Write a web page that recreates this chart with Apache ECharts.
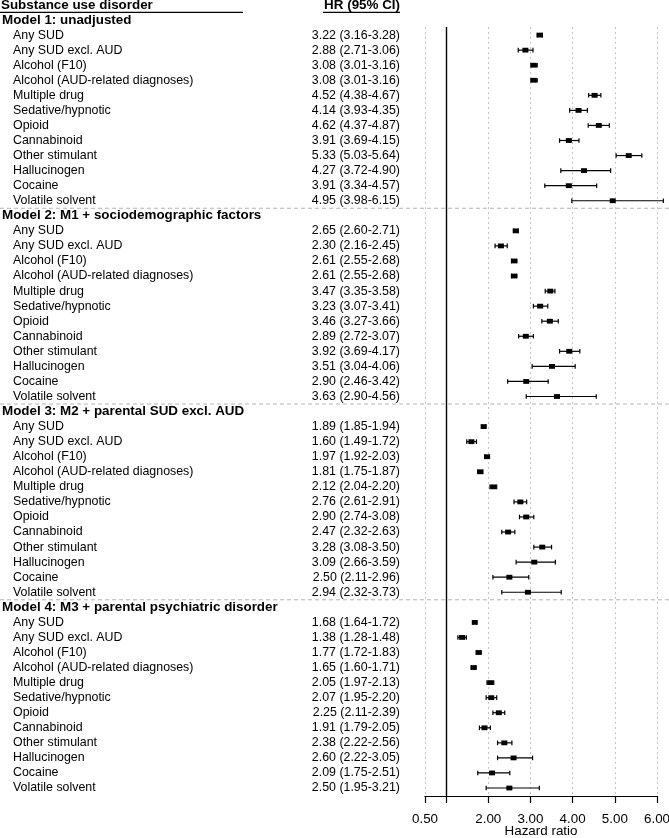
<!DOCTYPE html>
<html>
<head>
<meta charset="utf-8">
<script src="https://cdn.jsdelivr.net/npm/echarts@6/dist/echarts.min.js"></script>
<style>
  html, body { margin: 0; padding: 0; background: #fff; }
  #main { width: 669px; height: 838px; }
</style>
</head>
<body>
<div id="main"></div>
<script>
// forest plot: HR (95% CI) by substance use disorder, four models
var models = [
  'Model 1: unadjusted',
  'Model 2: M1 + sociodemographic factors',
  'Model 3: M2 + parental SUD excl. AUD',
  'Model 4: M3 + parental psychiatric disorder'
];
var substances = [
  'Any SUD', 'Any SUD excl. AUD', 'Alcohol (F10)', 'Alcohol (AUD-related diagnoses)',
  'Multiple drug', 'Sedative/hypnotic', 'Opioid', 'Cannabinoid',
  'Other stimulant', 'Hallucinogen', 'Cocaine', 'Volatile solvent'
];

var hr1 = [3.22, 2.88, 3.08, 3.08, 4.52, 4.14, 4.62, 3.91, 5.33, 4.27, 3.91, 4.95];
var lo1 = [3.16, 2.71, 3.01, 3.01, 4.38, 3.93, 4.37, 3.69, 5.03, 3.72, 3.34, 3.98];
var hi1 = [3.28, 3.06, 3.16, 3.16, 4.67, 4.35, 4.87, 4.15, 5.64, 4.90, 4.57, 6.15];

var hr2 = [2.65, 2.30, 2.61, 2.61, 3.47, 3.23, 3.46, 2.89, 3.92, 3.51, 2.90, 3.63];
var lo2 = [2.60, 2.16, 2.55, 2.55, 3.35, 3.07, 3.27, 2.72, 3.69, 3.04, 2.46, 2.90];
var hi2 = [2.71, 2.45, 2.68, 2.68, 3.58, 3.41, 3.66, 3.07, 4.17, 4.06, 3.42, 4.56];

var hr3 = [1.89, 1.60, 1.97, 1.81, 2.12, 2.76, 2.90, 2.47, 3.28, 3.09, 2.50, 2.94];
var lo3 = [1.85, 1.49, 1.92, 1.75, 2.04, 2.61, 2.74, 2.32, 3.08, 2.66, 2.11, 2.32];
var hi3 = [1.94, 1.72, 2.03, 1.87, 2.20, 2.91, 3.08, 2.63, 3.50, 3.59, 2.96, 3.73];

var hr4 = [1.68, 1.38, 1.77, 1.65, 2.05, 2.07, 2.25, 1.91, 2.38, 2.60, 2.09, 2.50];
var lo4 = [1.64, 1.28, 1.72, 1.60, 1.97, 1.95, 2.11, 1.79, 2.22, 2.22, 1.75, 1.95];
var hi4 = [1.72, 1.48, 1.83, 1.71, 2.13, 2.20, 2.39, 2.05, 2.56, 3.05, 2.51, 3.21];

var tickValues = [0.5, 1, 2, 3, 4, 5, 6];
var labelValues = [0.5, 2, 3, 4, 5, 6];
var gridValues = [0.5, 2, 3, 4, 5, 6];

var FONT = '"Liberation Sans", Arial, Helvetica, sans-serif';

var hrs = [hr1, hr2, hr3, hr4], los = [lo1, lo2, lo3, lo4], his = [hi1, hi2, hi3, hi4];

// one row per line of the table; row 0 is the column header
var rows = [{ kind: 'col' }];
var ciData = [];
var sepRows = [];
models.forEach(function (m, mi) {
  if (mi > 0) sepRows.push(rows.length - 0.5);
  rows.push({ kind: 'model', text: m });
  substances.forEach(function (s, si) {
    var h = hrs[mi][si], l = los[mi][si], u = his[mi][si];
    rows.push({
      kind: 'item', text: s,
      hrText: h.toFixed(2) + ' (' + l.toFixed(2) + '-' + u.toFixed(2) + ')'
    });
    ciData.push([l, u, h, rows.length - 1]);
  });
});
var textData = rows.map(function (r, i) { return [1, i]; });

function yOf(api, row) { return api.coord([1, row])[1]; }

var chart = echarts.init(document.getElementById('main'), null, { renderer: 'canvas' });
chart.setOption({
  animation: false,
  backgroundColor: '#fff',
  grid: { left: 425, right: 12, top: 27, bottom: 42, outerBoundsMode: 'none', containLabel: false },
  // axis title placed by hand, under the tick labels
  graphic: [{
    type: 'text', x: 541, y: 831,
    style: { text: 'Hazard ratio', fill: '#000', font: '13.4px ' + FONT, textAlign: 'center', textVerticalAlign: 'middle' }
  }],
  xAxis: {
    type: 'value', min: 0.5, max: 6,
    axisLine: { show: true, lineStyle: { color: '#000', width: 1.2 } },
    axisTick: { show: true, customValues: tickValues, length: 7, lineStyle: { color: '#000', width: 1.2 } },
    axisLabel: {
      customValues: labelValues, margin: 17, color: '#000', fontFamily: FONT, fontSize: 13.4,
      formatter: function (v) { return v.toFixed(2); }
    },
    splitLine: { show: false }
  },
  yAxis: {
    type: 'value', inverse: true, min: 1.4628, max: 52.53,
    show: false
  },
  series: [
    {
      type: 'custom', name: 'ci', clip: false, silent: true,
      data: ciData,
      encode: { x: [0, 1, 2], y: 3 },
      renderItem: function (params, api) {
        var row = api.value(3);
        var a = api.coord([api.value(0), row]);
        var b = api.coord([api.value(1), row]);
        var c = api.coord([api.value(2), row]);
        var st = { stroke: '#000', lineWidth: 1.2 };
        return {
          type: 'group',
          children: [
            { type: 'line', shape: { x1: a[0], y1: a[1], x2: b[0], y2: b[1] }, style: st },
            { type: 'line', shape: { x1: a[0], y1: a[1] - 2.3, x2: a[0], y2: a[1] + 2.3 }, style: st },
            { type: 'line', shape: { x1: b[0], y1: b[1] - 2.3, x2: b[0], y2: b[1] + 2.3 }, style: st },
            { type: 'rect', shape: { x: c[0] - 3, y: c[1] - 2.4, width: 6, height: 4.8 }, style: { fill: '#000' } }
          ]
        };
      },
      markLine: {
        silent: true, symbol: 'none', label: { show: false },
        data: gridValues.map(function (v) {
          return { xAxis: v, lineStyle: { color: '#c4c4c4', type: [2, 3], width: 1 } };
        }).concat([{ xAxis: 1, lineStyle: { color: '#000', type: 'solid', width: 1.4 } }])
      },
      z: 5
    },
    {
      type: 'custom', name: 'table', clip: false, silent: true,
      data: textData,
      encode: { x: 0, y: 1 },
      renderItem: function (params, api) {
        var r = rows[params.dataIndex];
        var y = yOf(api, api.value(1));
        var bold = { fill: '#000', font: 'bold 13.4px ' + FONT, textVerticalAlign: 'middle' };
        var norm = { fill: '#000', font: '12.4px ' + FONT, textVerticalAlign: 'middle' };
        if (r.kind === 'col') {
          return {
            type: 'group',
            children: [
              { type: 'text', style: Object.assign({ text: 'Substance use disorder', x: 1, y: y, textAlign: 'left' }, bold) },
              { type: 'text', style: Object.assign({ text: 'HR (95% CI)', x: 400, y: y, textAlign: 'right' }, bold) },
              { type: 'line', shape: { x1: 0, y1: y + 7.5, x2: 243, y2: y + 7.5 }, style: { stroke: '#000', lineWidth: 1.2 } },
              { type: 'line', shape: { x1: 323, y1: y + 7.5, x2: 400, y2: y + 7.5 }, style: { stroke: '#000', lineWidth: 1.2 } }
            ]
          };
        }
        if (r.kind === 'model') {
          return { type: 'text', style: Object.assign({ text: r.text, x: 2, y: y, textAlign: 'left' }, bold) };
        }
        return {
          type: 'group',
          children: [
            { type: 'text', style: Object.assign({ text: r.text, x: 13, y: y, textAlign: 'left' }, norm) },
            { type: 'text', style: Object.assign({ text: r.hrText, x: 400, y: y, textAlign: 'right' }, norm) }
          ]
        };
      }
    },
    {
      type: 'custom', name: 'separators', clip: false, silent: true,
      data: sepRows.map(function (r) { return [1, r]; }),
      encode: { x: 0, y: 1 },
      renderItem: function (params, api) {
        var y = yOf(api, api.value(1));
        return {
          type: 'line',
          shape: { x1: 0, y1: y, x2: api.getWidth(), y2: y },
          style: { stroke: '#b4b4b4', lineWidth: 1, lineDash: [4, 3] }
        };
      }
    }
  ]
});
</script>
</body>
</html>
